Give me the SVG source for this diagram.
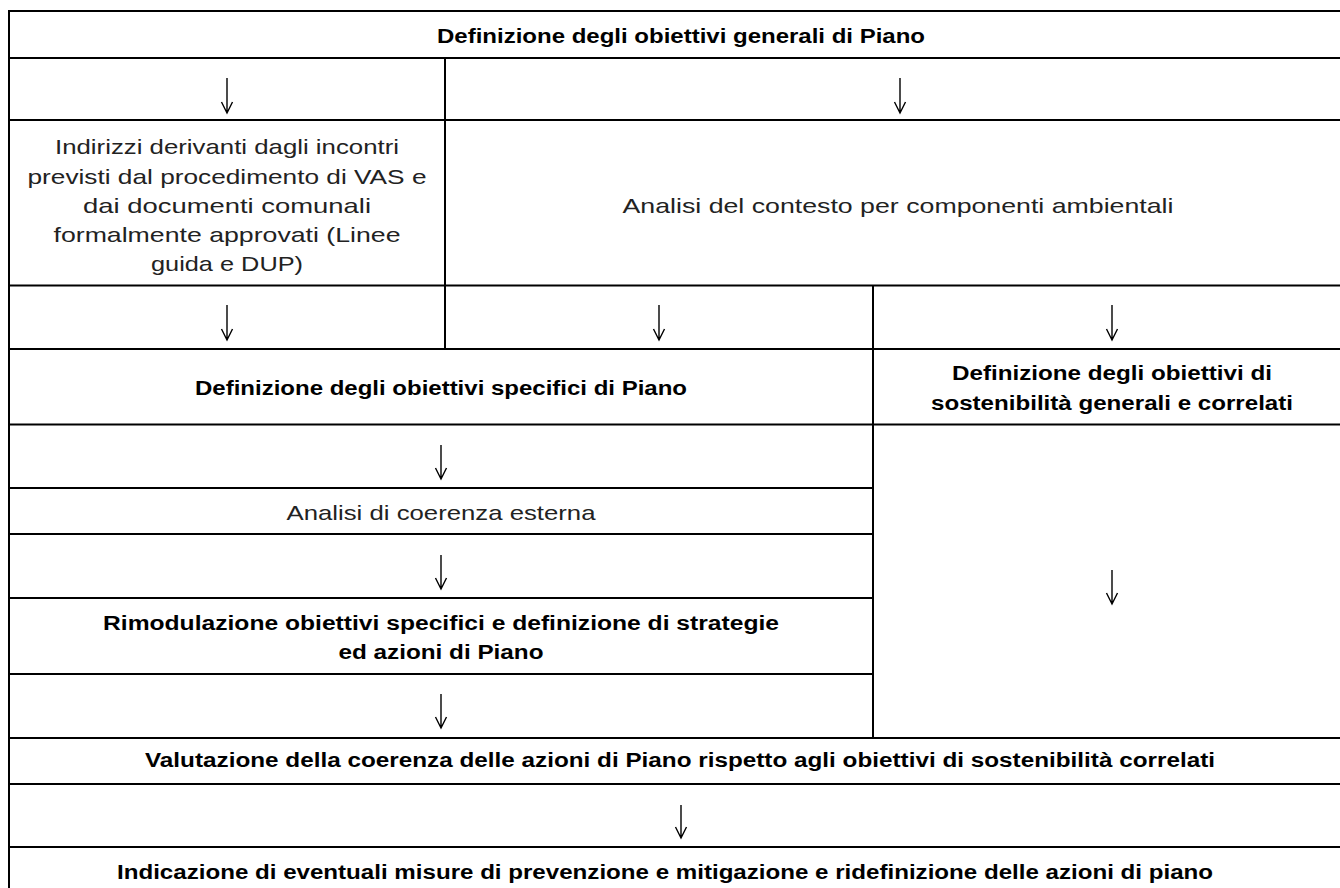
<svg xmlns="http://www.w3.org/2000/svg" width="1340" height="888" viewBox="0 0 1340 888">
<style>
.b{font-family:"Liberation Sans",Arial,sans-serif;font-weight:bold;font-size:20px;fill:#000;text-anchor:middle}
.r{font-family:"Liberation Sans",Arial,sans-serif;font-size:21px;fill:#222;text-anchor:middle}
.ln{stroke:#000;stroke-width:2;fill:none}
.ar{stroke:#000;stroke-width:1.4;fill:none}
</style>
<rect width="1340" height="888" fill="#fff"/>
<g id="grid">
<line class="ln" x1="9" y1="11" x2="1360" y2="11"/>
<line class="ln" x1="9" y1="58" x2="1360" y2="58"/>
<line class="ln" x1="9" y1="120" x2="1360" y2="120"/>
<line class="ln" x1="9" y1="285.5" x2="1360" y2="285.5"/>
<line class="ln" x1="9" y1="349" x2="1360" y2="349"/>
<line class="ln" x1="9" y1="424.5" x2="1360" y2="424.5"/>
<line class="ln" x1="9" y1="488" x2="873" y2="488"/>
<line class="ln" x1="9" y1="534" x2="873" y2="534"/>
<line class="ln" x1="9" y1="598" x2="873" y2="598"/>
<line class="ln" x1="9" y1="674" x2="873" y2="674"/>
<line class="ln" x1="9" y1="738" x2="1360" y2="738"/>
<line class="ln" x1="9" y1="784" x2="1360" y2="784"/>
<line class="ln" x1="9" y1="847" x2="1360" y2="847"/>
<line class="ln" x1="9" y1="10" x2="9" y2="900"/>
<line class="ln" x1="445" y1="58" x2="445" y2="349"/>
<line class="ln" x1="873" y1="285.5" x2="873" y2="738"/>
</g>
<g id="n1"><text class="b" x="681" y="43" textLength="488" lengthAdjust="spacingAndGlyphs">Definizione degli obiettivi generali di Piano</text></g>
<g id="n2"><text class="r" x="227" y="154" textLength="344" lengthAdjust="spacingAndGlyphs">Indirizzi derivanti dagli incontri</text>
<text class="r" x="227" y="184" textLength="399" lengthAdjust="spacingAndGlyphs">previsti dal procedimento di VAS e</text>
<text class="r" x="227" y="213" textLength="288" lengthAdjust="spacingAndGlyphs">dai documenti comunali</text>
<text class="r" x="227" y="242" textLength="347" lengthAdjust="spacingAndGlyphs">formalmente approvati (Linee</text>
<text class="r" x="227" y="271" textLength="152" lengthAdjust="spacingAndGlyphs">guida e DUP)</text></g>
<g id="n3"><text class="r" x="898" y="213" textLength="551" lengthAdjust="spacingAndGlyphs">Analisi del contesto per componenti ambientali</text></g>
<g id="n4"><text class="b" x="441" y="395" textLength="492" lengthAdjust="spacingAndGlyphs">Definizione degli obiettivi specifici di Piano</text></g>
<g id="n5"><text class="b" x="1112" y="380" textLength="320" lengthAdjust="spacingAndGlyphs">Definizione degli obiettivi di</text>
<text class="b" x="1112" y="410" textLength="362" lengthAdjust="spacingAndGlyphs">sostenibilità generali e correlati</text></g>
<g id="n6"><text class="r" x="441" y="520" textLength="309" lengthAdjust="spacingAndGlyphs">Analisi di coerenza esterna</text></g>
<g id="n7"><text class="b" x="441" y="630" textLength="676" lengthAdjust="spacingAndGlyphs">Rimodulazione obiettivi specifici e definizione di strategie</text>
<text class="b" x="441" y="659" textLength="205" lengthAdjust="spacingAndGlyphs">ed azioni di Piano</text></g>
<g id="n8"><text class="b" x="680" y="767" textLength="1070" lengthAdjust="spacingAndGlyphs">Valutazione della coerenza delle azioni di Piano rispetto agli obiettivi di sostenibilità correlati</text></g>
<g id="n9"><text class="b" x="665" y="879" textLength="1096" lengthAdjust="spacingAndGlyphs">Indicazione di eventuali misure di prevenzione e mitigazione e ridefinizione delle azioni di piano</text></g>
<g id="connectors">
<path class="ar" d="M227 78V113M221.5 102L227 113L232.5 102"/>
<path class="ar" d="M900 78V113M894.5 102L900 113L905.5 102"/>
<path class="ar" d="M227 305V340M221.5 329L227 340L232.5 329"/>
<path class="ar" d="M659 305V340M653.5 329L659 340L664.5 329"/>
<path class="ar" d="M1112 305V340M1106.5 329L1112 340L1117.5 329"/>
<path class="ar" d="M441 445V479M435.5 468L441 479L446.5 468"/>
<path class="ar" d="M441 555V589M435.5 578L441 589L446.5 578"/>
<path class="ar" d="M441 694V728M435.5 717L441 728L446.5 717"/>
<path class="ar" d="M1112 570V604M1106.5 593L1112 604L1117.5 593"/>
<path class="ar" d="M681 805V838M675.5 827L681 838L686.5 827"/>
</g>
</svg>
